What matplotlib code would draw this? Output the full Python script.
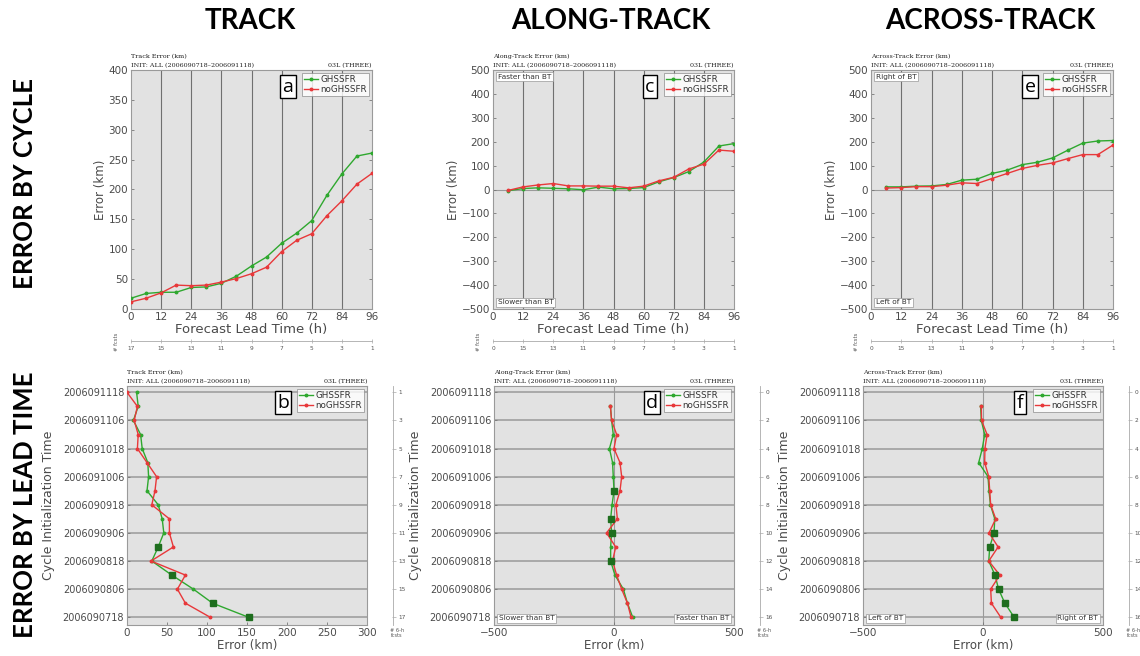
import matplotlib
matplotlib.use("Agg")
import matplotlib.pyplot as plt
import numpy as np

# forecast lead times (h); along/across-track errors start at 6 h
lead = np.arange(0, 97, 6)
lead_at = lead[1:]

# track error by lead time (km)
track_ghs = [18, 26, 28, 28, 36, 37, 43, 55, 72, 87, 110, 127, 148, 190, 226, 256, 261]
track_no = [12, 18, 27, 40, 39, 40, 45, 51, 59, 70, 96, 115, 126, 156, 181, 209, 227]
along_ghs = [-5, 4, 7, 5, 3, -1, 10, 3, 4, 8, 32, 50, 75, 115, 182, 192]
along_no = [-4, 11, 19, 25, 15, 15, 14, 14, 7, 14, 36, 51, 86, 106, 165, 160]
across_ghs = [11, 11, 14, 15, 21, 39, 43, 67, 81, 104, 114, 132, 164, 194, 203, 205]
across_no = [6, 8, 12, 12, 18, 28, 25, 46, 67, 88, 101, 111, 129, 146, 146, 186]
fcst_count_track = ["17", "15", "13", "11", "9", "7", "5", "3", "1"]
fcst_count_at = ["0", "15", "13", "11", "9", "7", "5", "3", "1"]

# error by cycle: index 0 = 2006090718 ... 16 = 2006091118 (6-hourly)
cycle_ticks = ["2006090718", "2006090806", "2006090818", "2006090906", "2006090918",
               "2006091006", "2006091018", "2006091106", "2006091118"]
cyc_track_ghs = [152, 107, 83, 56, 31, 39, 46, 44, 39, 25, 27, 26, 19, 17, 8, 14, 12]
cyc_track_no = [104, 73, 63, 73, 30, 58, 53, 53, 31, 35, 37, 25, 13, 14, 9, 13, 0]
cyc_along_ghs = [78, 56, 39, 4, -14, -14, -10, -14, -8, 0, -3, -6, -19, -3, -10, -15]
cyc_along_no = [71, 56, 32, 11, -6, 7, -31, 14, 8, 25, 32, 25, 0, 11, -10, -15]
cyc_across_ghs = [130, 91, 65, 50, 24, 28, 46, 49, 31, 25, 21, -18, -3, 7, -7, -10]
cyc_across_no = [74, 35, 32, 70, 24, 63, 25, 53, 32, 28, 24, 7, 8, 17, -6, -7]
sig_track = [0, 1, 3, 5]
sig_along = [4, 6, 7, 9]
sig_across = [0, 1, 2, 3, 5, 6]
n6h_track = ["17", "15", "13", "11", "9", "7", "5", "3", "1"]
n6h_at = ["16", "14", "12", "10", "8", "6", "4", "2", "0"]

GREEN = "#2fa82f"
RED = "#e8383a"
BG = "#e2e2e2"
TXT = "#4a4a4a"
W, H = 1140, 656

fig = plt.figure(figsize=(W / 100, H / 100), dpi=100)


def box(x0, y0, x1, y1):
    return [x0 / W, 1 - y1 / H, (x1 - x0) / W, (y1 - y0) / H]


def style(ax, labelsize=7.5):
    ax.set_facecolor(BG)
    for s in ax.spines.values():
        s.set_color("#9a9a9a")
        s.set_linewidth(0.8)
    ax.tick_params(direction="in", length=2, width=0.6, color="#777777",
                   labelsize=labelsize, labelcolor=TXT, right=True, pad=2)


def headers(ax, name):
    kw = dict(transform=ax.transAxes, family="DejaVu Serif", fontsize=4.6,
              color="#222222", va="center")
    ax.text(0, 1.056, f"{name} Error (km)", ha="left", **kw)
    ax.text(0, 1.018, "INIT: ALL (2006090718\u20132006091118)", ha="left", **kw)
    ax.text(1, 1.018, "03L (THREE)", ha="right", **kw)


def legend_and_letter(ax, letter, lx):
    leg = ax.legend(loc="upper right", fontsize=6.3, frameon=True, fancybox=False,
                    borderpad=0.25, handlelength=1.6, handletextpad=0.3,
                    labelspacing=0.15, borderaxespad=0.3)
    leg.get_frame().set_edgecolor("#888888")
    leg.get_frame().set_linewidth(0.6)
    for t in leg.get_texts():
        t.set_color("#333333")
    ax.text(lx, 0.93, letter, transform=ax.transAxes, ha="center", va="center",
            fontsize=14, family="Open Sans",
            bbox=dict(boxstyle="square,pad=0.12", fc="white", ec="black", lw=1.0))


def note(ax, x, y, s, ha, va):
    ax.text(x, y, s, transform=ax.transAxes, ha=ha, va=va, fontsize=5.3, color="#333333",
            bbox=dict(boxstyle="square,pad=0.25", fc="white", ec="#999999", lw=0.5))


def lead_panel(rect, x, ghs, no, ylim, yticks, name, letter, lx, counts, notes=()):
    ax = fig.add_axes(box(*rect))
    style(ax)
    for v in range(12, 96, 12):
        ax.axvline(v, color="#707070", lw=0.8, zorder=1)
    if ylim[0] < 0:
        ax.axhline(0, color="#9a9a9a", lw=0.8, zorder=1)
    ax.plot(x, ghs, "-o", color=GREEN, lw=1.0, ms=1.8, label="GHSSFR", zorder=3)
    ax.plot(x, no, "-o", color=RED, lw=1.0, ms=1.8, label="noGHSSFR", zorder=3)
    ax.set_xlim(0, 96)
    ax.set_ylim(*ylim)
    ax.set_xticks(range(0, 97, 12))
    ax.set_yticks(yticks)
    ax.set_xlabel("Forecast Lead Time (h)", fontsize=9.5, color=TXT, labelpad=1)
    ax.set_ylabel("Error (km)", fontsize=8.5, color=TXT, labelpad=1)
    headers(ax, name)
    legend_and_letter(ax, letter, lx)
    for n in notes:
        note(ax, *n)

    # number of forecasts per lead time
    x0, y0, x1, y1 = rect
    cax = fig.add_axes(box(x0, 340, x1, 341))
    cax.set_xlim(0, 96)
    cax.set_xticks(range(0, 97, 12))
    cax.set_xticklabels(counts)
    cax.set_yticks([])
    for s in ("top", "left", "right"):
        cax.spines[s].set_visible(False)
    cax.spines["bottom"].set_color("#aaaaaa")
    cax.spines["bottom"].set_linewidth(0.6)
    cax.patch.set_alpha(0)
    cax.tick_params(axis="x", direction="inout", length=3, width=0.5, color="#aaaaaa",
                    labelsize=4.2, labelcolor="#555555", pad=2)
    fig.text((x0 - 14) / W, 1 - 342 / H, "# fcsts", rotation=90, fontsize=3.8,
             color="#555555", ha="center", va="center")
    return ax


def cycle_panel(rect, ghs, no, sig, xlim, xticks, name, letter, lx, right_x, counts,
                notes=()):
    ax = fig.add_axes(box(*rect))
    style(ax, labelsize=7)
    ax.tick_params(right=False)
    for v in range(0, 17, 2):
        ax.axhline(v, color="#9a9a9a", lw=1.1, zorder=1)
    if xlim[0] < 0:
        ax.axvline(0, color="#9a9a9a", lw=0.8, zorder=1)
    yy = np.arange(len(ghs))
    ax.plot(ghs, yy, "-o", color=GREEN, lw=1.0, ms=1.8, label="GHSSFR", zorder=3)
    ax.plot(no, yy, "-o", color=RED, lw=1.0, ms=1.8, label="noGHSSFR", zorder=3)
    ax.plot(np.asarray(ghs)[sig], yy[sig], "s", color="#1e6e1e", ms=4.2, zorder=4)
    ax.set_xlim(*xlim)
    ax.set_ylim(-0.55, 16.45)
    ax.set_xticks(xticks)
    ax.tick_params(axis="x", labelsize=7.5)
    ax.set_yticks(range(0, 17, 2))
    ax.set_yticklabels(cycle_ticks)
    ax.set_xlabel("Error (km)", fontsize=8.5, color=TXT, labelpad=1)
    ax.set_ylabel("Cycle Initialization Time", fontsize=9, color=TXT)
    ax.yaxis.set_label_coords(-0.30, 0.5)
    headers(ax, name)
    legend_and_letter(ax, letter, lx)
    for n in notes:
        note(ax, *n)

    # number of 6-h forecasts per cycle
    x0, y0, x1, y1 = rect
    rax = fig.add_axes(box(right_x, y0, right_x + 1, y1))
    rax.set_ylim(-0.55, 16.45)
    rax.set_yticks(range(0, 17, 2))
    rax.set_yticklabels(counts)
    rax.set_xticks([])
    for s in ("top", "bottom", "right"):
        rax.spines[s].set_visible(False)
    rax.spines["left"].set_color("#aaaaaa")
    rax.spines["left"].set_linewidth(0.6)
    rax.patch.set_alpha(0)
    rax.tick_params(axis="y", left=False, right=True, labelleft=False, labelright=True,
                    direction="inout", length=3, width=0.5, color="#aaaaaa",
                    labelsize=4.2, labelcolor="#555555", pad=2)
    fig.text((right_x + 4) / W, 1 - 633 / H, "# 6-h\nfcsts", fontsize=3.6,
             color="#555555", ha="center", va="center", linespacing=1.0)
    return ax


lead_panel((131, 70, 372, 309), lead, track_ghs, track_no, (0, 400), range(0, 401, 50),
           "Track", "a", 0.651, fcst_count_track)
lead_panel((493, 70, 734, 309), lead_at, along_ghs, along_no, (-500, 500),
           range(-500, 501, 100), "Along-Track", "c", 0.651, fcst_count_at,
           notes=[(0.02, 0.985, "Faster than BT", "left", "top"),
                  (0.02, 0.015, "Slower than BT", "left", "bottom")])
lead_panel((871, 70, 1113, 309), lead_at, across_ghs, across_no, (-500, 500),
           range(-500, 501, 100), "Across-Track", "e", 0.657, fcst_count_at,
           notes=[(0.02, 0.985, "Right of BT", "left", "top"),
                  (0.02, 0.015, "Left of BT", "left", "bottom")])

cycle_panel((127, 386, 367, 625), cyc_track_ghs, cyc_track_no, sig_track, (0, 300),
            range(0, 301, 50), "Track", "b", 0.65, 393, n6h_track)
cycle_panel((494, 386, 734, 625), cyc_along_ghs, cyc_along_no, sig_along, (-500, 500),
            [-500, 0, 500], "Along-Track", "d", 0.658, 760, n6h_at,
            notes=[(0.02, 0.015, "Slower than BT", "left", "bottom"),
                   (0.98, 0.015, "Faster than BT", "right", "bottom")])
cycle_panel((863, 386, 1103, 625), cyc_across_ghs, cyc_across_no, sig_across, (-500, 500),
            [-500, 0, 500], "Across-Track", "f", 0.654, 1129, n6h_at,
            notes=[(0.02, 0.015, "Left of BT", "left", "bottom"),
                   (0.98, 0.015, "Right of BT", "right", "bottom")])

# column and row headings
big = dict(family=["Lato", "DejaVu Sans"], fontweight="bold",
           color="black", ha="center", va="center")
for xc, s in [(250, "TRACK"), (611, "ALONG-TRACK"), (990, "ACROSS-TRACK")]:
    fig.text(xc / W, 1 - 21 / H, s, fontsize=20, **big)
fig.text(25 / W, 1 - 183 / H, "ERROR BY CYCLE", rotation=90, fontsize=18.5, **big)
fig.text(25 / W, 1 - 505 / H, "ERROR BY LEAD TIME", rotation=90, fontsize=18.5, **big)

fig.savefig("out.png", dpi=100)
